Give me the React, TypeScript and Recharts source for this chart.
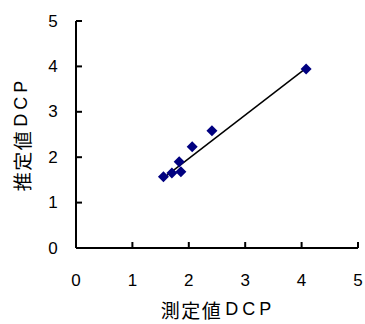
import { ScatterChart, Scatter, XAxis, YAxis, ReferenceLine } from 'recharts';

// measured vs estimated DCP
const measured = [1.55, 1.7, 1.83, 1.86, 2.06, 2.41, 4.08];
const estimated = [1.57, 1.65, 1.9, 1.68, 2.23, 2.58, 3.94];
const ticks = [0, 1, 2, 3, 4, 5];
// trendline end points
const trendX = [1.56, 4.08];
const trendY = [1.55, 3.96];

const points = measured.map((x, i) => ({ x, y: estimated[i] }));

const W = 365;
const H = 324;
const PLOT_LEFT = 76;
const PLOT_BOTTOM = 248;
const NUM_FONT = '"Liberation Sans", Arial, sans-serif';
const JP_FONT = '"Noto Sans CJK JP", sans-serif';

const Diamond = (props: any) => {
  const { cx, cy } = props;
  if (cx == null || cy == null) return null;
  const r = 5.5;
  return (
    <polygon
      points={`${cx},${cy - r} ${cx + r},${cy} ${cx},${cy + r} ${cx - r},${cy}`}
      fill="#000080"
    />
  );
};

const YTick = (props: any) => {
  const { y, payload } = props;
  return (
    <g>
      <line x1={PLOT_LEFT} x2={PLOT_LEFT + 6} y1={y} y2={y} stroke="#000" strokeWidth={2} />
      <text x={53} y={y} textAnchor="middle" dominantBaseline="central" fontSize={17} fontFamily={NUM_FONT} fill="#000">
        {payload.value}
      </text>
    </g>
  );
};

const XTick = (props: any) => {
  const { x, payload } = props;
  return (
    <g>
      <line x1={x} x2={x} y1={PLOT_BOTTOM} y2={PLOT_BOTTOM - 6} stroke="#000" strokeWidth={2} />
      <text x={x} y={280} textAnchor="middle" dominantBaseline="central" fontSize={17} fontFamily={NUM_FONT} fill="#000">
        {payload.value}
      </text>
    </g>
  );
};

const AxisTitle = ({ kanji, x, y, rotate }: { kanji: string; x: number; y: number; rotate?: boolean }) => (
  <text
    x={x}
    y={y}
    textAnchor="middle"
    dominantBaseline="central"
    fontSize={19}
    fontFamily={JP_FONT}
    fill="#000"
    transform={rotate ? `rotate(-90, ${x}, ${y})` : undefined}
  >
    <tspan letterSpacing={1.5}>{kanji}</tspan>
    <tspan dx={3} letterSpacing={4} fontFamily={NUM_FONT} fontSize={18}>DCP</tspan>
  </text>
);

export default function App() {
  return (
    <div style={{ position: 'absolute', left: 0, top: 0, width: W, height: H, background: '#fff' }}>
      <ScatterChart width={W} height={H} margin={{ top: 21, right: 7, left: 0, bottom: 0 }}>
        <XAxis
          type="number"
          dataKey="x"
          domain={[0, 5]}
          ticks={ticks}
          height={H - PLOT_BOTTOM}
          axisLine={{ stroke: '#000', strokeWidth: 2 }}
          tickLine={false}
          tick={<XTick />}
          interval={0}
          allowDataOverflow
        />
        <YAxis
          type="number"
          dataKey="y"
          domain={[0, 5]}
          ticks={ticks}
          width={PLOT_LEFT}
          axisLine={{ stroke: '#000', strokeWidth: 2 }}
          tickLine={false}
          tick={<YTick />}
          interval={0}
          allowDataOverflow
        />
        <Scatter data={points} shape={<Diamond />} isAnimationActive={false} />
        <ReferenceLine
          segment={[
            { x: trendX[0], y: trendY[0] },
            { x: trendX[1], y: trendY[1] },
          ]}
          stroke="#000"
          strokeWidth={1.5}
        />
        <AxisTitle kanji="測定値" x={218} y={309} />
        <AxisTitle kanji="推定値" x={21} y={134} rotate />
      </ScatterChart>
    </div>
  );
}
